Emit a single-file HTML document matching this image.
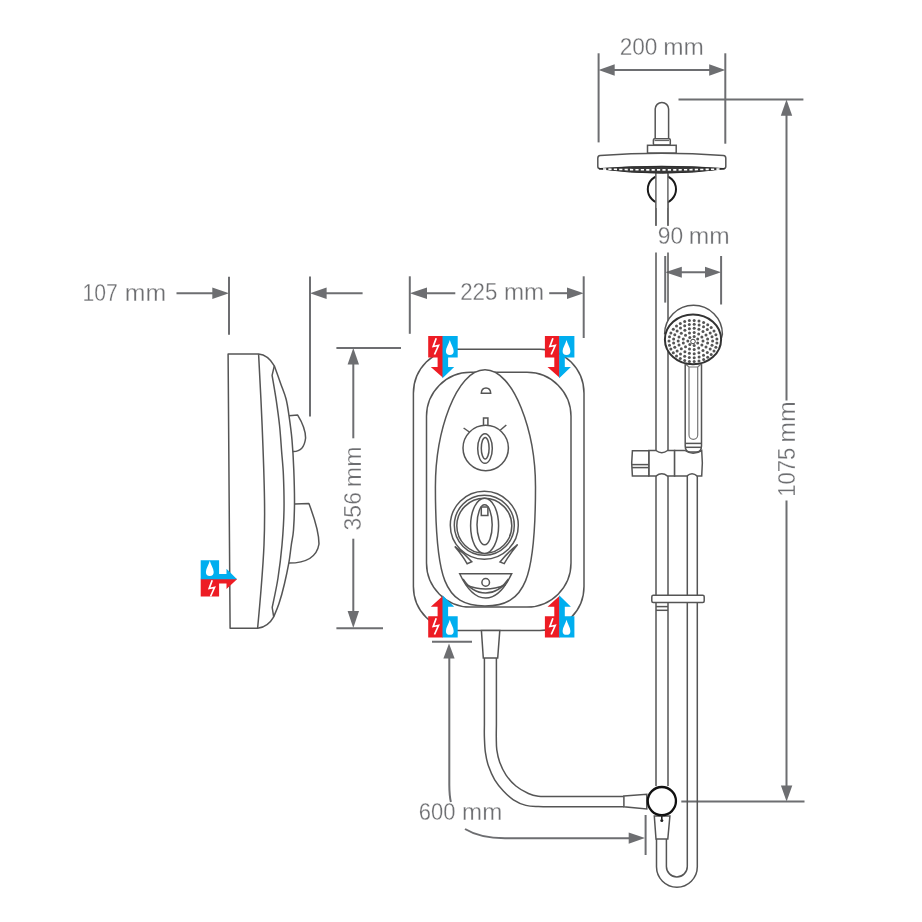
<!DOCTYPE html>
<html><head><meta charset="utf-8">
<style>
html,body{margin:0;padding:0;background:#fff;width:922px;height:922px;overflow:hidden}
svg{display:block;will-change:transform}
text{font-family:"Liberation Sans",sans-serif;fill:#6d6e71;font-size:24.3px;stroke:#fff;stroke-width:0.3px}
</style></head><body>
<svg width="922" height="922" viewBox="0 0 922 922">
<defs>
  <path id="drop" d="M0,-11.2 C0.8,-7.5 3.9,-3.6 3.9,0 A3.9,3.9 0 1 1 -3.9,0 C-3.9,-3.6 -0.8,-7.5 0,-11.2 Z" fill="#fff"/>
  <polyline id="bolt" points="2.2,-8.2 -0.8,0 4.5,-1 0.5,8" fill="none" stroke="#fff" stroke-width="1.7" stroke-linejoin="miter"/>
  <!-- down icon, origin at top-left of red square -->
  <g id="icdown">
    <path d="M0,0 H14.8 V41.7 L2.6,30.8 H9.4 V21.3 H0 Z" fill="#ed1c24"/>
    <path d="M14.3,0 H29.5 V21.3 H19.9 V30.8 H26 L14.3,42.2 Z" fill="#00aeef"/>
    <use href="#bolt" x="5.8" y="10.4"/>
    <use href="#drop" x="21.6" y="15"/>
  </g>
  <g id="icup">
    <path d="M0,42.2 H14.8 V0.5 L2.6,11.4 H9.4 V20.9 H0 Z" fill="#ed1c24"/>
    <path d="M14.3,42.2 H29.5 V20.9 H19.9 V11.4 H26 L14.3,0 Z" fill="#00aeef"/>
    <use href="#bolt" x="5.8" y="31.2"/>
    <use href="#drop" x="21.6" y="35.6"/>
  </g>
</defs>

<!-- ============ DIMENSIONS (gray) ============ -->
<g stroke="#6d6e71" stroke-width="2" fill="none">
  <!-- 107 -->
  <line x1="176.5" y1="293.2" x2="222" y2="293.2"/>
  <line x1="229" y1="276.7" x2="229" y2="334.8"/>
  <line x1="310" y1="276.5" x2="310" y2="416.6"/>
  <line x1="318" y1="293.2" x2="362.6" y2="293.2"/>
  <!-- 356 -->
  <line x1="336.4" y1="347.9" x2="401" y2="347.9"/>
  <line x1="353.3" y1="356" x2="353.3" y2="438.3"/>
  <line x1="353.3" y1="538.7" x2="353.3" y2="620"/>
  <line x1="336.4" y1="628.3" x2="383" y2="628.3"/>
  <!-- 225 -->
  <line x1="409.8" y1="276.3" x2="409.8" y2="333.8"/>
  <line x1="583.7" y1="276.3" x2="583.7" y2="338"/>
  <line x1="418" y1="293.2" x2="455.3" y2="293.2"/>
  <line x1="549.2" y1="293.2" x2="576" y2="293.2"/>
  <!-- 200 -->
  <line x1="598.6" y1="53.3" x2="598.6" y2="142.4"/>
  <line x1="725.3" y1="53.3" x2="725.3" y2="143.7"/>
  <line x1="606" y1="70" x2="718" y2="70"/>
  <!-- 1075 -->
  <line x1="678.5" y1="99.4" x2="803.4" y2="99.4"/>
  <line x1="786.5" y1="106" x2="786.5" y2="400.6"/>
  <line x1="786.5" y1="500.4" x2="786.5" y2="794"/>
  <line x1="681.3" y1="801.5" x2="804.5" y2="801.5"/>
  <!-- 90 -->
  <line x1="665.2" y1="256" x2="665.2" y2="302.6"/>
  <line x1="721.1" y1="256" x2="721.1" y2="304.5"/>
  <line x1="672" y1="272.2" x2="714" y2="272.2"/>
  <!-- 600 -->
  <line x1="432" y1="641.7" x2="472" y2="641.7"/>
  <path d="M449.3,652 V785 Q449.4,796 450.9,802"/>
  <path d="M465,829 Q480,838.2 505,838.2 H636"/>
  <line x1="645.6" y1="815" x2="645.6" y2="855"/>
</g>
<g fill="#6d6e71">
  <polygon points="212.3,287.5 229,293.2 212.3,299"/>
  <polygon points="326.6,287.5 310,293.2 326.6,299"/>
  <polygon points="347.6,364.6 353.3,348 359,364.6"/>
  <polygon points="347.6,611 353.3,628 359,611"/>
  <polygon points="427,287.5 409.8,293.2 427,299"/>
  <polygon points="567,287.5 583.7,293.2 567,299"/>
  <polygon points="614.7,64.3 598.6,70 614.7,75.7"/>
  <polygon points="709.2,64.3 725.3,70 709.2,75.7"/>
  <polygon points="780.8,115.8 786.5,99.4 792.2,115.8"/>
  <polygon points="780.9,785.5 786.6,801.5 792.3,785.5"/>
  <polygon points="681.8,266.7 665.2,272.2 681.8,277.7"/>
  <polygon points="705,266.7 721.1,272.2 705,277.7"/>
  <polygon points="443.4,658.6 449,643.5 454.6,658.6"/>
  <polygon points="628.7,832.5 645,838.1 628.7,843.7"/>
</g>
<!-- texts -->
<text x="82.57" y="300.60" textLength="35.29" lengthAdjust="spacingAndGlyphs">107</text>
<text x="124.85" y="300.60" textLength="41.30" lengthAdjust="spacingAndGlyphs">mm</text>
<text x="460.18" y="299.60" textLength="37.25" lengthAdjust="spacingAndGlyphs">225</text>
<text x="503.89" y="299.60" textLength="40.22" lengthAdjust="spacingAndGlyphs">mm</text>
<text x="619.66" y="54.50" textLength="37.83" lengthAdjust="spacingAndGlyphs">200</text>
<text x="663.17" y="54.50" textLength="40.65" lengthAdjust="spacingAndGlyphs">mm</text>
<text x="657.72" y="243.70" textLength="25.37" lengthAdjust="spacingAndGlyphs">90</text>
<text x="688.87" y="243.70" textLength="40.87" lengthAdjust="spacingAndGlyphs">mm</text>
<text x="418.70" y="820.30" textLength="36.67" lengthAdjust="spacingAndGlyphs">600</text>
<text x="462.10" y="820.30" textLength="40.11" lengthAdjust="spacingAndGlyphs">mm</text>
<g transform="translate(361.40,529.50) rotate(-90)"><text x="-0.91" y="0" textLength="38.32" lengthAdjust="spacingAndGlyphs">356</text><text x="42.27" y="0" textLength="40.76" lengthAdjust="spacingAndGlyphs">mm</text></g>
<g transform="translate(795.00,495.20) rotate(-90)"><text x="-1.66" y="0" textLength="49.08" lengthAdjust="spacingAndGlyphs">1075</text><text x="52.54" y="0" textLength="41.52" lengthAdjust="spacingAndGlyphs">mm</text></g>

<!-- ============ SIDE VIEW ============ -->
<g stroke="#555" stroke-width="1.5" fill="none" stroke-linejoin="round">
  <path d="M228.1,354.1 L230.1,628.3 L257.6,628.3 Q268,627 273.7,616.8 C274.6,614.6 277.2,609.1 279.0,603.6 C280.8,598.1 282.8,590.8 284.4,584.0 C286.0,577.2 287.6,569.6 288.8,563.1 C290.0,556.6 290.5,550.5 291.3,545.0 C292.1,539.5 293.0,536.8 293.5,530.0 C294.0,523.2 294.4,514.0 294.5,504.0 C294.6,494.0 294.2,480.7 293.8,470.0 C293.4,459.3 292.8,449.1 292.0,440.0 C291.2,430.9 290.0,422.6 289.0,415.7 C288.0,408.8 287.4,404.1 286.0,398.8 C284.6,393.5 282.8,389.5 280.8,384.0 C278.9,378.5 275.4,368.8 274.3,365.8 Q268,355 258.6,354.1 Z" fill="#fff"/>
  <path d="M258.6,354.1 C259.2,365.9 261.1,400.7 262.1,425.0 C263.1,449.3 264.2,480.0 264.5,500.0 C264.8,520.0 264.6,530.0 264.0,545.0 C263.4,560.0 262.1,576.1 261.0,590.0 C259.9,603.9 258.2,621.9 257.6,628.3"/>
  <path d="M274.3,365.8 L272.1,375.4 C272.8,379.7 275.2,393.1 276.4,401.4 C277.6,409.7 278.6,416.9 279.5,425.0 C280.4,433.1 280.9,441.7 281.5,450.0 C282.1,458.3 283.0,465.0 283.4,475.0 C283.8,485.0 284.2,498.3 284.0,510.0 C283.8,521.7 283.0,533.7 282.0,545.0 C281.0,556.3 279.6,567.6 278.0,578.0 C276.4,588.4 273.2,602.6 272.2,607.5 L273.7,616.8"/>
  <path d="M289,415.7 L297.7,415.1 Q305.6,428 305.6,438 Q304,452 292.7,451.5"/>
  <path d="M294.5,504 L308.9,503.5 Q319,530 319,544 Q316,563 288.8,563.1"/>
</g>
<!-- side icon -->
<path d="M200.7,578.8 H236.5 L237,579.3 L226.5,589 V583.4 H219.1 V596.6 H200.7 Z" fill="#ed1c24"/>
<path d="M200.7,560.3 H219.1 V573.9 H226.5 V568.7 L237,579.3 H200.7 Z" fill="#00aeef"/>
<use href="#drop" x="209.8" y="572"/>
<use href="#bolt" x="210" y="588.5"/>

<!-- ============ FRONT VIEW ============ -->
<g stroke="#555" stroke-width="1.5" fill="none">
  <rect x="413.4" y="349.2" width="170.6" height="281.2" rx="44" ry="44" fill="#fff"/>
  <!-- hose connector + hose -->
  <path d="M481.4,630.4 H499.8 L497.7,658 H483.3 Z" fill="#fff"/>
  <path d="M484.4,658 L484.4,725.0 C484.4,727.1 484.2,732.8 484.4,737.4 C484.6,742.0 484.7,747.6 485.4,752.4 C486.1,757.2 486.9,761.5 488.5,766.1 C490.1,770.7 492.2,775.6 494.7,779.8 C497.2,783.9 500.3,787.7 503.4,791.0 C506.5,794.3 509.6,797.4 513.4,799.8 C517.1,802.2 521.8,804.3 525.9,805.4 C530.0,806.5 534.3,806.4 538.3,806.6 C542.3,806.8 548.0,806.8 550.0,806.8 H623.9"/>
  <path d="M496.4,658 L496.4,725.0 C496.4,727.1 496.2,733.2 496.3,737.4 C496.4,741.5 496.2,745.8 496.8,749.9 C497.4,754.0 498.2,758.1 499.7,762.3 C501.2,766.4 503.2,770.8 505.9,774.8 C508.6,778.8 512.1,782.9 515.9,786.0 C519.6,789.1 524.7,791.8 528.4,793.5 C532.1,795.2 534.7,795.8 538.3,796.3 C541.9,796.8 548.0,796.5 550.0,796.5 H623.9"/>
  <rect x="426.5" y="372.3" width="144.5" height="234.8" rx="44" ry="44"/>
  <path d="M485,369.8 C514,369.8 535.5,432 535.5,487 C535.5,578 526,606 485,606 C444,606 435.4,578 435.4,487 C435.4,432 456,369.8 485,369.8 Z" fill="#fff"/>
  <!-- dome -->
  <path d="M481.3,393.3 Q481.5,388 486,388 Q490.5,388 490.7,393.3 Z"/>
  <!-- small knob -->
  <circle cx="485.7" cy="448" r="22.7"/>
  <ellipse cx="485" cy="448.5" rx="7.3" ry="14.8"/>
  <ellipse cx="485.2" cy="448.2" rx="3.9" ry="10.8"/>
  <path d="M483.5,425.4 V417.9 H487.9 V425.4"/>
  <line x1="463.6" y1="428" x2="469.4" y2="432"/>
  <line x1="500.2" y1="430.2" x2="506.3" y2="425"/>
  <!-- big knob -->
  <circle cx="484.3" cy="525.3" r="34"/>
  <circle cx="484.3" cy="525.3" r="30"/>
  <circle cx="484.3" cy="525.8" r="27.5"/>
  <ellipse cx="484.6" cy="525.8" rx="14" ry="27.6" fill="#fff"/>
  <ellipse cx="484.6" cy="524.8" rx="7.6" ry="20"/>
  <path d="M481.3,515.5 V506.9 H487.9 V515.5 Z" fill="#fff"/>
  <!-- wings -->
  <path d="M454.8,546.4 Q463,556 467.2,563.8 L471.8,561.8 Q464,553 454.8,546.4 Z"/>
  <path d="M517.6,544.6 Q509,555 504.2,563.6 L500,562 Q508,552 517.6,544.6 Z"/>
  <!-- bottom button -->
  <path d="M459.7,573.7 H511.7 Q500,598 485.7,598 Q471,598 459.7,573.7 Z"/>
  <path d="M463,579 Q472,593 485.7,593 Q499,593 508.5,579"/>
  <path d="M466,585 Q476,589 485.7,589 Q495,589 505.5,585"/>
  <circle cx="485.7" cy="582.4" r="3.8"/>
</g>
<use href="#icdown" x="428.2" y="336.1"/>
<use href="#icdown" x="544.9" y="336.1"/>
<use href="#icup" x="428.2" y="595.3"/>
<use href="#icup" x="544.9" y="595.3"/>

<!-- ============ RAIL ============ -->
<g stroke="#555" stroke-width="1.5" fill="none">
  <!-- hose from handset down to U -->
  <path d="M687.3,476 V866.5 A10.45,10.45 0 0 1 666.4,866.5 V839"/>
  <path d="M697.3,476 V866.8 A20.4,20.4 0 0 1 656.5,866.8 V839"/>
  <!-- rail -->
  <line x1="656" y1="174" x2="656" y2="225.8"/>
  <line x1="668" y1="174" x2="668" y2="225.8"/>
  <line x1="656" y1="252.4" x2="656" y2="786"/>
  <line x1="668" y1="252.4" x2="668" y2="786"/>
  <!-- lower connector -->
  <path d="M654.3,816 H669.9 L667.8,839 H656 Z" fill="#fff"/>
  <path d="M623.9,795.9 L646.8,794.2 V809 L623.9,806.8 Z" fill="#fff"/>
  <circle cx="661.85" cy="801.1" r="14.1" stroke="#111" stroke-width="2.3" fill="#fff"/>
  <path d="M661.8,815 V819.5" stroke="#222" stroke-width="1.6"/><circle cx="661.8" cy="820.6" r="1.5" fill="#222" stroke="none"/>
  <!-- bracket -->
  <rect x="651.8" y="595.2" width="52.4" height="7.2" rx="1.5" fill="#fff"/>
  <line x1="656" y1="606.6" x2="668" y2="606.6"/>
  <line x1="656" y1="610.3" x2="668" y2="610.3"/>
</g>

<!-- overhead shower -->
<g stroke="#555" stroke-width="1.5" fill="#fff">
  <circle cx="661.9" cy="189.3" r="14.1" stroke="#1a1a1a" stroke-width="2"/>
  <rect x="655.9" y="172" width="11.9" height="36" stroke="none"/>
  <line x1="655.9" y1="172" x2="655.9" y2="225.8" stroke="#666" stroke-width="1.5"/>
  <line x1="667.9" y1="172" x2="667.9" y2="225.8" stroke="#666" stroke-width="1.5"/>
  <path d="M655.2,138.8 V109.1 A6.7,6.7 0 0 1 668.6,109.1 V138.8 Z"/>
  <rect x="653.4" y="138.8" width="16.9" height="6.3" rx="1.2"/>
  <line x1="654.5" y1="140.6" x2="669.2" y2="140.6" stroke-width="1"/>
  <rect x="647.5" y="145.3" width="28.7" height="7.8"/>
  <path d="M600.2,155.6 Q661.8,150.8 723.4,155.6 Q725.8,155.9 725.8,158.2 V166.6 Q725.8,168.8 723.4,168.8 Q661.8,164 600.2,168.8 Q597.8,168.8 597.8,166.6 V158.2 Q597.8,155.9 600.2,155.6 Z"/>
  <path d="M599,168.8 Q661.8,164 724.6,168.8 Q661.8,177.6 599,168.8 Z" fill="#3a3a3a" stroke="#2b2b2b" stroke-width="1"/>
  <path d="M603,169 Q661.8,170.8 720.6,169" stroke="#fff" stroke-width="1.6" stroke-dasharray="3.2,2.2" fill="none"/>
</g>

<!-- handset -->
<g stroke="#555" stroke-width="1.5" fill="#fff">
  <path d="M685.2,364 V446 Q685.2,452 690.5,452 H696.3 Q701.5,452 701.5,446 V364"/>
  <line x1="685.2" y1="443.4" x2="701.5" y2="443.4"/>
  <line x1="685.2" y1="447.3" x2="701.5" y2="447.3"/>
  <path d="M689,367 V435 A4.35,4.35 0 0 0 697.7,435 V367 Z M685.5,364 L689,367 M701.2,364 L697.7,367" fill="none" stroke="#777" stroke-width="1.2"/>
  <path d="M664.6,334.2 A28.9,28.9 0 0 1 722.4,334.2 L721.1,339.4"/>
  <ellipse cx="693" cy="339.4" rx="28.1" ry="24.9" stroke="#333" stroke-width="2"/>
</g>
<g fill="#555"><circle cx="697.7" cy="342.9" r="1.5"/><circle cx="694.2" cy="345.4" r="1.5"/><circle cx="689.8" cy="344.5" r="1.5"/><circle cx="687.8" cy="341.0" r="1.5"/><circle cx="689.8" cy="337.5" r="1.5"/><circle cx="694.2" cy="336.6" r="1.5"/><circle cx="697.7" cy="339.1" r="1.5"/><circle cx="703.0" cy="341.0" r="1.5"/><circle cx="701.9" cy="345.0" r="1.5"/><circle cx="698.7" cy="348.1" r="1.5"/><circle cx="694.2" cy="349.5" r="1.5"/><circle cx="689.5" cy="349.0" r="1.5"/><circle cx="685.5" cy="346.7" r="1.5"/><circle cx="683.3" cy="343.1" r="1.5"/><circle cx="683.3" cy="338.9" r="1.5"/><circle cx="685.5" cy="335.3" r="1.5"/><circle cx="689.5" cy="333.0" r="1.5"/><circle cx="694.2" cy="332.5" r="1.5"/><circle cx="698.7" cy="333.9" r="1.5"/><circle cx="701.9" cy="337.0" r="1.5"/><circle cx="707.6" cy="343.1" r="1.5"/><circle cx="706.0" cy="347.1" r="1.5"/><circle cx="703.0" cy="350.4" r="1.5"/><circle cx="698.9" cy="352.7" r="1.5"/><circle cx="694.2" cy="353.7" r="1.5"/><circle cx="689.4" cy="353.3" r="1.5"/><circle cx="684.9" cy="351.7" r="1.5"/><circle cx="681.3" cy="348.8" r="1.5"/><circle cx="679.0" cy="345.1" r="1.5"/><circle cx="678.2" cy="341.0" r="1.5"/><circle cx="679.0" cy="336.9" r="1.5"/><circle cx="681.3" cy="333.2" r="1.5"/><circle cx="684.9" cy="330.3" r="1.5"/><circle cx="689.4" cy="328.7" r="1.5"/><circle cx="694.2" cy="328.3" r="1.5"/><circle cx="698.9" cy="329.3" r="1.5"/><circle cx="703.0" cy="331.6" r="1.5"/><circle cx="706.0" cy="334.9" r="1.5"/><circle cx="707.6" cy="338.9" r="1.5"/><circle cx="712.6" cy="341.0" r="1.5"/><circle cx="712.0" cy="345.2" r="1.5"/><circle cx="710.2" cy="349.1" r="1.5"/><circle cx="707.3" cy="352.5" r="1.5"/><circle cx="703.5" cy="355.2" r="1.5"/><circle cx="699.1" cy="357.0" r="1.5"/><circle cx="694.2" cy="357.8" r="1.5"/><circle cx="689.3" cy="357.6" r="1.5"/><circle cx="684.7" cy="356.3" r="1.5"/><circle cx="680.5" cy="354.0" r="1.5"/><circle cx="677.1" cy="350.9" r="1.5"/><circle cx="674.8" cy="347.2" r="1.5"/><circle cx="673.6" cy="343.1" r="1.5"/><circle cx="673.6" cy="338.9" r="1.5"/><circle cx="674.8" cy="334.8" r="1.5"/><circle cx="677.1" cy="331.1" r="1.5"/><circle cx="680.5" cy="328.0" r="1.5"/><circle cx="684.7" cy="325.7" r="1.5"/><circle cx="689.3" cy="324.4" r="1.5"/><circle cx="694.2" cy="324.2" r="1.5"/><circle cx="699.1" cy="325.0" r="1.5"/><circle cx="703.5" cy="326.8" r="1.5"/><circle cx="707.3" cy="329.5" r="1.5"/><circle cx="710.2" cy="332.9" r="1.5"/><circle cx="712.0" cy="336.8" r="1.5"/><circle cx="716.9" cy="343.1" r="1.5"/><circle cx="715.9" cy="347.2" r="1.5"/><circle cx="714.0" cy="351.0" r="1.5"/><circle cx="711.2" cy="354.4" r="1.5"/><circle cx="707.7" cy="357.3" r="1.5"/><circle cx="703.6" cy="359.5" r="1.5"/><circle cx="699.0" cy="361.0" r="1.5"/><circle cx="694.2" cy="361.6" r="1.5"/><circle cx="689.4" cy="361.4" r="1.5"/><circle cx="684.7" cy="360.4" r="1.5"/><circle cx="680.3" cy="358.5" r="1.5"/><circle cx="676.5" cy="356.0" r="1.5"/><circle cx="673.3" cy="352.8" r="1.5"/><circle cx="670.9" cy="349.1" r="1.5"/><circle cx="669.5" cy="345.2" r="1.5"/><circle cx="669.0" cy="341.0" r="1.5"/><circle cx="669.5" cy="336.8" r="1.5"/><circle cx="670.9" cy="332.9" r="1.5"/><circle cx="673.3" cy="329.2" r="1.5"/><circle cx="676.5" cy="326.0" r="1.5"/><circle cx="680.3" cy="323.5" r="1.5"/><circle cx="684.7" cy="321.6" r="1.5"/><circle cx="689.4" cy="320.6" r="1.5"/><circle cx="694.2" cy="320.4" r="1.5"/><circle cx="699.0" cy="321.0" r="1.5"/><circle cx="703.6" cy="322.5" r="1.5"/><circle cx="707.7" cy="324.7" r="1.5"/><circle cx="711.2" cy="327.6" r="1.5"/><circle cx="714.0" cy="331.0" r="1.5"/><circle cx="715.9" cy="334.8" r="1.5"/><circle cx="716.9" cy="338.9" r="1.5"/></g>
<circle cx="693" cy="341.5" r="2.3" fill="none" stroke="#444" stroke-width="1"/>

<!-- slider -->
<g stroke="#555" stroke-width="1.5" fill="#fff">
  <path d="M648.8,450.5 H655.9 Q661.8,455 667.6,450.5 H674.6 V476.1 H667.6 Q661.8,471.5 655.9,476.1 H648.8 Z"/>
  <path d="M674.6,450.5 H684.9 Q693,456 701.7,450.5 Q703,463 701.7,476.1 H697.3 Q692,471.5 686.8,476.1 H674.6 Z"/>
  <path d="M632.4,450.7 H648.8 V476.1 H632.4 Q631,463 632.4,450.7 Z"/>
  <line x1="632" y1="464.6" x2="648.8" y2="464.6"/>
  <line x1="632" y1="467.6" x2="648.8" y2="467.6"/>
</g>
</svg>
</body></html>
